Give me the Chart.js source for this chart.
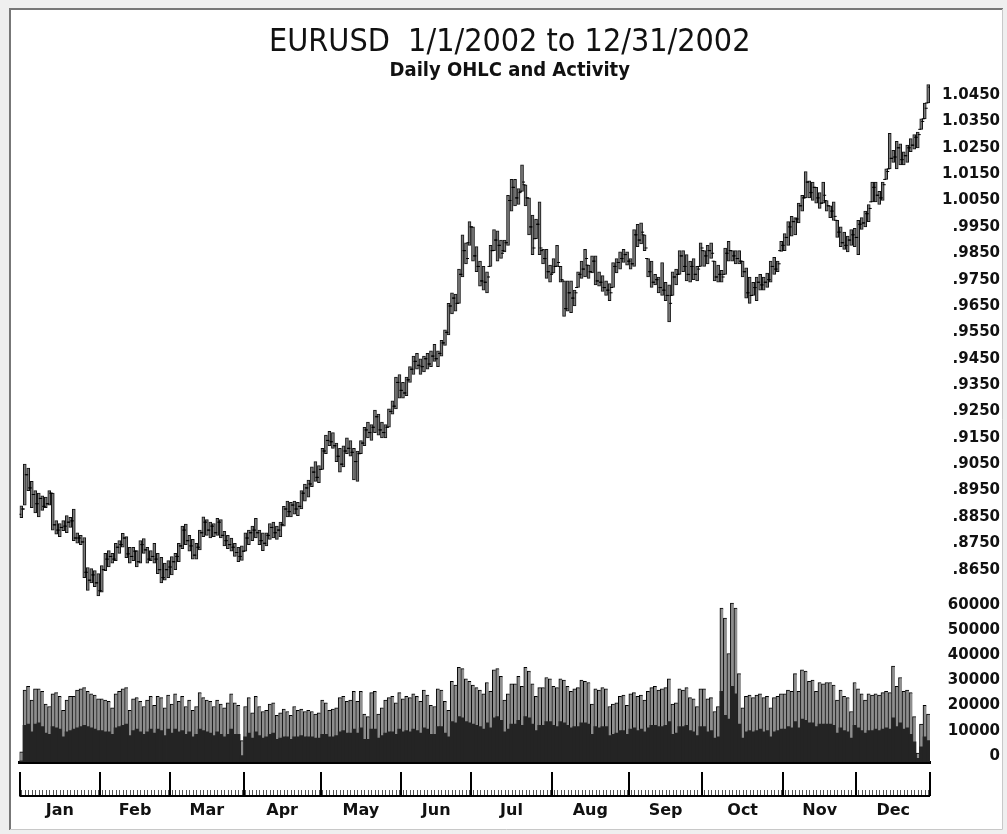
<!DOCTYPE html>
<html>
<head>
<meta charset="utf-8">
<script src="https://cdn.jsdelivr.net/npm/chart.js@4.4.1/dist/chart.umd.min.js"></script>
<style>
  html, body { margin: 0; padding: 0; background: #fff; }
  #wrap { position: relative; width: 1007px; height: 834px; }
  canvas { position: absolute; left: 0; top: 0; }
</style>
</head>
<body>
<div id="wrap"><canvas id="chart" width="1007" height="834"></canvas></div>
<script>
// months and trading days per month (weekdays, Dec 25 closed)
const months = ["Jan", "Feb", "Mar", "Apr", "May", "Jun", "Jul", "Aug", "Sep", "Oct", "Nov", "Dec"];
const monthDays = [23, 20, 21, 22, 23, 20, 23, 22, 21, 23, 21, 21];

const priceTicks = [0.865, 0.875, 0.885, 0.895, 0.905, 0.915, 0.925, 0.935, 0.945, 0.955,
    0.965, 0.975, 0.985, 0.995, 1.005, 1.015, 1.025, 1.035, 1.045];
const activityTicks = [0, 10000, 20000, 30000, 40000, 50000, 60000];

// daily EURUSD, one row per month
const high = [
    .8892, .9050, .9035, .8985, .8950, .8940, .8930, .8925, .8950, .8940, .8836, .8825, .8836, .8855, .8848, .8880, .8790, .8780, .8772, .8658, .8654, .8646, .8635,
    .8665, .8712, .8722, .8712, .8750, .8760, .8788, .8775, .8735, .8735, .8722, .8760, .8768, .8735, .8722, .8750, .8712, .8697, .8675, .8684,
    .8700, .8712, .8750, .8815, .8823, .8780, .8765, .8750, .8800, .8850, .8840, .8830, .8825, .8845, .8840, .8795, .8780, .8770, .8750, .8735, .8740,
    .8790, .8800, .8815, .8845, .8800, .8790, .8790, .8825, .8830, .8815, .8830, .8890, .8910, .8905, .8910, .8905, .8950, .8975, .8990, .9040, .9060, .9045,
    .9110, .9160, .9175, .9170, .9130, .9110, .9120, .9150, .9140, .9110, .9100, .9140, .9190, .9210, .9200, .9255, .9240, .9210, .9200, .9260, .9290, .9380, .9390,
    .9360, .9380, .9420, .9460, .9470, .9450, .9460, .9470, .9480, .9505, .9480, .9520, .9560, .9660, .9700, .9695, .9790, .9920, .9890, .9970,
    .9950, .9875, .9820, .9800, .9780, .9880, .9940, .9935, .9900, .9900, 1.0070, 1.0130, 1.0130, 1.0095, 1.0185, 1.0110, 1.0060, .9995, .9980, 1.0045, .9865, .9865, .9805,
    .9830, .9880, .9800, .9745, .9745, .9745, .9710, .9780, .9820, .9865, .9805, .9840, .9840, .9780, .9765, .9745, .9735, .9815, .9830, .9855, .9865, .9855,
    .9830, .9940, .9960, .9965, .9920, .9830, .9820, .9770, .9760, .9815, .9740, .9730, .9780, .9790, .9860, .9860, .9845, .9820, .9830, .9800, .9890,
    .9860, .9880, .9890, .9820, .9805, .9785, .9870, .9895, .9860, .9860, .9860, .9820, .9795, .9760, .9740, .9760, .9770, .9760, .9775, .9820, .9835, .9820, .9895,
    .9925, .9970, .9990, .9985, 1.0040, 1.0070, 1.0160, 1.0125, 1.0120, 1.0100, 1.0080, 1.0120, 1.0050, 1.0030, 1.0045, .9975, .9950, .9930, .9915, .9940, .9945,
    .9975, .9985, 1.0010, 1.0035, 1.0120, 1.0120, 1.0085, 1.0120, 1.0170, 1.0305, 1.0240, 1.0275, 1.0265, 1.0235, 1.0260, 1.0285, 1.0300, 1.0310, 1.0360, 1.0420, 1.0490
];
const low = [
    .8847, .8895, .8950, .8885, .8865, .8850, .8875, .8885, .8895, .8800, .8785, .8775, .8798, .8790, .8810, .8760, .8750, .8745, .8620, .8571, .8600, .8585, .8550,
    .8565, .8646, .8660, .8675, .8684, .8712, .8735, .8695, .8675, .8684, .8660, .8675, .8712, .8675, .8684, .8675, .8635, .8600, .8610, .8620,
    .8630, .8650, .8680, .8730, .8745, .8720, .8690, .8690, .8725, .8775, .8780, .8770, .8775, .8780, .8770, .8740, .8730, .8720, .8700, .8680, .8685,
    .8720, .8745, .8760, .8770, .8745, .8722, .8740, .8765, .8770, .8765, .8775, .8815, .8850, .8850, .8860, .8855, .8880, .8910, .8925, .8965, .8985, .8980,
    .9030, .9090, .9120, .9110, .9060, .9020, .9040, .9090, .9080, .8990, .8985, .9090, .9120, .9150, .9140, .9170, .9160, .9150, .9150, .9190, .9240, .9260, .9300,
    .9300, .9310, .9360, .9390, .9410, .9390, .9400, .9410, .9420, .9440, .9420, .9460, .9500, .9540, .9620, .9630, .9660, .9760, .9810, .9880,
    .9820, .9780, .9725, .9710, .9700, .9800, .9860, .9820, .9830, .9855, .9880, 1.0010, 1.0030, 1.0035, 1.0085, 1.0030, .9920, .9845, .9905, .9845, .9810, .9755, .9740,
    .9775, .9800, .9740, .9610, .9630, .9625, .9650, .9720, .9755, .9760, .9755, .9775, .9730, .9725, .9705, .9690, .9670, .9720, .9775, .9790, .9815, .9805,
    .9790, .9800, .9875, .9885, .9860, .9760, .9720, .9730, .9700, .9690, .9670, .9590, .9690, .9730, .9770, .9780, .9745, .9740, .9750, .9745, .9800,
    .9800, .9810, .9830, .9745, .9740, .9740, .9770, .9820, .9820, .9810, .9810, .9760, .9680, .9660, .9690, .9670, .9710, .9710, .9720, .9740, .9770, .9780, .9857,
    .9860, .9880, .9915, .9920, .9965, 1.0010, 1.0060, 1.0060, 1.0050, 1.0040, 1.0020, 1.0040, 1.0010, .9985, .9975, .9910, .9875, .9865, .9855, .9880, .9875,
    .9845, .9940, .9950, .9970, 1.0045, 1.0045, 1.0035, 1.0050, 1.0130, 1.0170, 1.0195, 1.0170, 1.0185, 1.0185, 1.0195, 1.0235, 1.0245, 1.0250, 1.0320, 1.0360, 1.0420
];
const open = [
    .8860, .8880, .9010, .8960, .8935, .8900, .8920, .8890, .8900, .8940, .8820, .8800, .8810, .8815, .8830, .8835, .8770, .8770, .8755, .8640, .8610, .8630, .8600,
    .8570, .8650, .8690, .8700, .8690, .8735, .8745, .8770, .8710, .8700, .8720, .8680, .8745, .8725, .8690, .8700, .8690, .8650, .8620, .8650,
    .8660, .8680, .8700, .8740, .8800, .8760, .8740, .8705, .8735, .8790, .8830, .8800, .8815, .8790, .8830, .8780, .8760, .8745, .8735, .8715, .8700,
    .8720, .8770, .8790, .8800, .8790, .8760, .8750, .8780, .8810, .8790, .8800, .8820, .8880, .8870, .8895, .8880, .8890, .8940, .8960, .8975, .9020, .9000,
    .9030, .9100, .9140, .9135, .9120, .9080, .9050, .9100, .9110, .9095, .9060, .9090, .9130, .9180, .9170, .9190, .9230, .9180, .9170, .9190, .9250, .9270, .9360,
    .9330, .9320, .9370, .9410, .9440, .9425, .9420, .9450, .9430, .9460, .9450, .9470, .9510, .9550, .9650, .9680, .9660, .9770, .9860, .9890,
    .9950, .9840, .9800, .9745, .9740, .9800, .9860, .9900, .9880, .9860, .9890, 1.0050, 1.0100, 1.0060, 1.0085, 1.0110, 1.0060, .9950, .9905, .9960, .9860, .9830, .9780,
    .9775, .9800, .9800, .9745, .9640, .9700, .9680, .9720, .9770, .9790, .9805, .9780, .9820, .9745, .9740, .9720, .9710, .9720, .9800, .9815, .9830, .9845,
    .9820, .9810, .9920, .9900, .9920, .9830, .9780, .9740, .9750, .9720, .9710, .9690, .9690, .9760, .9770, .9840, .9800, .9770, .9800, .9770, .9800,
    .9860, .9840, .9860, .9820, .9760, .9770, .9770, .9850, .9860, .9840, .9830, .9820, .9780, .9700, .9690, .9720, .9740, .9730, .9740, .9750, .9800, .9790, .9860,
    .9880, .9910, .9950, .9970, .9980, 1.0030, 1.0060, 1.0120, 1.0080, 1.0100, 1.0060, 1.0040, 1.0050, 1.0030, 1.0010, .9975, .9930, .9890, .9880, .9900, .9920,
    .9910, .9960, .9965, 1.0000, 1.0045, 1.0100, 1.0070, 1.0060, 1.0130, 1.0170, 1.0210, 1.0215, 1.0250, 1.0205, 1.0220, 1.0250, 1.0260, 1.0290, 1.0320, 1.0360, 1.0420
];
const close = [
    .8880, .9010, .8960, .8935, .8900, .8920, .8890, .8900, .8940, .8820, .8800, .8810, .8815, .8830, .8835, .8770, .8770, .8755, .8640, .8610, .8630, .8600, .8570,
    .8650, .8690, .8700, .8690, .8735, .8745, .8770, .8710, .8700, .8720, .8680, .8745, .8725, .8690, .8700, .8690, .8650, .8620, .8650, .8660,
    .8680, .8700, .8740, .8800, .8760, .8740, .8705, .8735, .8790, .8830, .8800, .8815, .8790, .8830, .8780, .8760, .8745, .8735, .8715, .8700, .8720,
    .8770, .8790, .8800, .8790, .8760, .8750, .8780, .8810, .8790, .8800, .8820, .8880, .8870, .8895, .8880, .8890, .8940, .8960, .8975, .9020, .9000, .9030,
    .9100, .9140, .9135, .9120, .9080, .9050, .9100, .9110, .9095, .9060, .9090, .9130, .9180, .9170, .9190, .9230, .9180, .9170, .9190, .9250, .9270, .9360, .9330,
    .9320, .9370, .9410, .9440, .9425, .9420, .9450, .9430, .9460, .9450, .9470, .9510, .9550, .9650, .9680, .9660, .9770, .9860, .9830, .9950,
    .9840, .9800, .9745, .9740, .9760, .9860, .9900, .9880, .9850, .9890, 1.0050, 1.0100, 1.0060, 1.0080, 1.0120, 1.0060, .9950, .9870, .9960, .9870, .9830, .9780, .9770,
    .9800, .9815, .9750, .9640, .9700, .9680, .9700, .9770, .9790, .9830, .9780, .9820, .9745, .9740, .9720, .9710, .9700, .9800, .9815, .9830, .9845, .9820,
    .9810, .9920, .9900, .9930, .9870, .9780, .9740, .9750, .9720, .9710, .9690, .9660, .9760, .9770, .9840, .9800, .9770, .9800, .9770, .9790, .9870,
    .9840, .9860, .9850, .9760, .9770, .9760, .9850, .9860, .9840, .9830, .9820, .9780, .9700, .9690, .9720, .9740, .9730, .9740, .9750, .9800, .9790, .9810, .9880,
    .9910, .9950, .9970, .9980, 1.0030, 1.0060, 1.0120, 1.0080, 1.0100, 1.0060, 1.0040, 1.0070, 1.0030, 1.0010, .9990, .9930, .9890, .9880, .9900, .9920, .9910,
    .9960, .9965, 1.0000, 1.0020, 1.0100, 1.0070, 1.0060, 1.0110, 1.0160, 1.0210, 1.0215, 1.0250, 1.0205, 1.0220, 1.0250, 1.0260, 1.0290, 1.0300, 1.0350, 1.0400, 1.0480
];

// daily activity: whole bar (grey) and the dark lower part
const activityTotal = [
    4000, 28500, 30000, 24500, 29000, 29000, 28000, 23000, 22000, 27000, 27500, 26000, 20500, 24500, 26000, 26000, 28500, 29000, 29500, 28000, 27000, 26500, 25000,
    25000, 24500, 24000, 21500, 27000, 28000, 29000, 29500, 20500, 25000, 25500, 24000, 22000, 24500, 26000, 22500, 26000, 25500, 21500, 26500,
    23000, 27000, 24000, 26000, 22000, 24500, 20500, 22000, 27500, 25500, 24500, 24000, 22000, 24500, 23000, 21500, 23500, 27000, 23500, 22500, 8500,
    22000, 25500, 19500, 26000, 22000, 20000, 20500, 23000, 23500, 18500, 19500, 21000, 20000, 18500, 22000, 20500, 21000, 20000, 20500, 20000, 19000, 19500,
    24500, 23500, 20500, 21000, 21500, 25500, 26000, 24000, 24500, 28000, 24000, 28000, 19000, 18000, 27500, 28000, 19000, 21500, 24500, 25500, 26000, 23500, 27500,
    25000, 26000, 25500, 27000, 26000, 24000, 28500, 26500, 22500, 22000, 29000, 28500, 24000, 20500, 32000, 30500, 37500, 37000, 33000, 32000,
    30500, 29500, 28500, 27000, 31500, 28000, 36500, 37000, 34000, 24500, 27000, 31000, 31000, 34000, 30000, 37500, 36000, 31000, 26000, 29500, 29500, 33500, 33000,
    30000, 29500, 33000, 32500, 30000, 28000, 29000, 29500, 32500, 32000, 31500, 23000, 29000, 28500, 29500, 29000, 22000, 23000, 23500, 26000, 26500, 22500,
    27000, 27500, 26000, 26500, 24500, 28000, 29500, 30000, 28500, 29000, 29500, 33000, 23000, 23500, 29000, 28500, 29500, 25500, 25000, 22000, 29000,
    29000, 25000, 25500, 20000, 22000, 61000, 57000, 43000, 63000, 61000, 35000, 21500, 26000, 26500, 25500, 26500, 27000, 25500, 26000, 21500, 25500, 26000, 27000,
    27000, 28500, 28000, 35000, 28000, 36500, 36000, 32000, 32500, 28000, 31500, 31000, 31500, 31500, 30500, 24500, 28500, 26000, 25500, 20000, 31500,
    29000, 27000, 24500, 27000, 26500, 27000, 26500, 27500, 28000, 27500, 38000, 30000, 33500, 28000, 28500, 27500, 18000, 3500, 15000, 22500, 19000
];
const activityDark = [
    500, 14500, 15000, 12000, 15000, 15500, 14000, 11500, 11000, 14000, 13500, 13000, 10000, 12000, 12500, 13000, 13500, 14000, 14500, 14000, 13500, 13000, 12500,
    12500, 12000, 12000, 11000, 13500, 14000, 14500, 15000, 10500, 12500, 13000, 12000, 11000, 12000, 13000, 11500, 13000, 12500, 10500, 13000,
    11500, 13000, 12000, 12500, 11000, 12000, 10000, 11000, 13000, 12500, 12000, 11500, 10500, 12000, 11000, 10000, 11000, 13000, 11000, 11000, 2500,
    10000, 11500, 9500, 12000, 10500, 9500, 10000, 11000, 11500, 9000, 9500, 10000, 10000, 9000, 10000, 10000, 10500, 10000, 10000, 10000, 9500, 9500,
    11000, 11000, 10000, 10000, 10500, 12000, 12500, 11500, 11500, 13000, 11500, 13500, 9000, 9000, 13000, 13000, 9500, 10500, 11500, 12000, 12000, 11000, 13000,
    12000, 12500, 12000, 13000, 12500, 11500, 13500, 13000, 11000, 11000, 14000, 14000, 11500, 10000, 16000, 15500, 18000, 17500, 16000, 15500,
    15000, 14500, 14000, 13000, 15500, 13500, 17500, 18000, 16500, 12000, 13000, 15000, 15000, 16500, 14500, 18000, 17500, 15000, 12500, 14500, 14500, 16000, 16000,
    14500, 14000, 16000, 15500, 14500, 13500, 14000, 14000, 15500, 15500, 15000, 11000, 14000, 13500, 14000, 14000, 10500, 11000, 11500, 12500, 12500, 11000,
    13000, 13500, 12500, 13000, 12000, 13500, 14500, 14500, 14000, 14000, 14500, 16000, 11000, 11500, 14000, 14000, 14500, 12500, 12000, 10500, 14000,
    14000, 12000, 12500, 9500, 10000, 28000, 18500, 17000, 30000, 27000, 15000, 9500, 12000, 12500, 12000, 12500, 13000, 12000, 12500, 10000, 12000, 12500, 13000,
    13000, 14000, 13500, 16000, 13500, 17000, 16500, 15500, 15500, 14000, 15000, 15000, 15000, 15000, 14500, 11500, 13500, 12500, 12000, 9500, 14500,
    13500, 12500, 11500, 12500, 12500, 13000, 12500, 13000, 13500, 13000, 17500, 14000, 15500, 13000, 13500, 11000, 8000, 1500, 6000, 10000, 8500
];

const dayCount = high.length;
const days = high.map((h, i) => i);
const monthStart = [];
let acc = 0;
monthDays.forEach(n => { monthStart.push(acc); acc += n; });

const FONT = "'DejaVu Sans', 'Noto Sans', sans-serif";
const TITLE_FONT = "'DejaVu Sans Condensed', 'DejaVu Sans', sans-serif";
const INK = "#111";

// light window frame around the picture
const frame = {
    id: "frame",
    beforeDraw(chart) {
        const c = chart.ctx, w = chart.width, h = chart.height;
        c.save();
        c.fillStyle = "#efefef";
        c.fillRect(0, 0, w, h);
        c.fillStyle = "#fff";
        c.fillRect(10, 9, w - 14, h - 13);
        c.strokeStyle = "#777";
        c.lineWidth = 2;
        c.beginPath();
        c.moveTo(10, h - 4);
        c.lineTo(10, 9);
        c.lineTo(w - 4, 9);
        c.stroke();
        c.strokeStyle = "#c8c8c8";
        c.lineWidth = 1;
        c.beginPath();
        c.moveTo(w - 4.5, 9);
        c.lineTo(w - 4.5, h - 4.5);
        c.lineTo(10, h - 4.5);
        c.stroke();
        c.restore();
    }
};

// calendar strip under the activity bars: month ticks and one tick per day
const timeline = {
    id: "timeline",
    afterDraw(chart) {
        const x = chart.scales.x, c = chart.ctx;
        const yTop = chart.chartArea.bottom + 10;
        const yBase = chart.chartArea.bottom + 34;
        c.save();
        c.strokeStyle = "#555";
        c.lineWidth = 1;
        c.beginPath();
        days.forEach(i => {
            const px = Math.round(x.getPixelForValue(i)) + 0.5;
            c.moveTo(px, yBase - 6);
            c.lineTo(px, yBase);
        });
        c.stroke();
        c.strokeStyle = "#000";
        c.lineWidth = 2;
        c.beginPath();
        monthStart.concat([dayCount]).forEach(m => {
            const px = Math.round(x.getPixelForValue(m - 0.5));
            c.moveTo(px, yTop);
            c.lineTo(px, yBase);
        });
        c.moveTo(x.getPixelForValue(-0.5), yBase);
        c.lineTo(x.getPixelForValue(dayCount - 0.5), yBase);
        c.stroke();
        c.restore();
    }
};

new Chart(document.getElementById("chart"), {
    data: {
        datasets: [{
            type: "bar",
            yAxisID: "v",
            data: days.map(i => ({x: i, y: activityDark[i]})),
            backgroundColor: "#242424",
            borderWidth: 0,
            barThickness: 3.5,
            grouped: false,
            order: 4
        }, {
            type: "bar",
            yAxisID: "v",
            data: days.map(i => ({x: i, y: activityTotal[i]})),
            backgroundColor: "#8e8e8e",
            borderColor: "#000",
            borderWidth: {top: 1, left: 1, right: 0, bottom: 0},
            borderSkipped: false,
            barThickness: 3.5,
            grouped: false,
            order: 5
        }, {
            type: "bar",
            yAxisID: "y",
            data: days.map(i => ({x: i, y: [low[i], high[i]]})),
            backgroundColor: "#7a7a7a",
            borderColor: "#111",
            borderWidth: 1,
            borderSkipped: false,
            barThickness: 3,
            grouped: false,
            order: 3
        }, {
            type: "scatter",
            yAxisID: "y",
            data: days.map(i => ({x: i - 0.43, y: open[i]})),
            pointStyle: "line",
            pointRadius: 1.5,
            borderColor: "#000",
            borderWidth: 1,
            order: 2
        }, {
            type: "scatter",
            yAxisID: "y",
            data: days.map(i => ({x: i + 0.43, y: close[i]})),
            pointStyle: "line",
            pointRadius: 1.5,
            borderColor: "#000",
            borderWidth: 1,
            order: 1
        }]
    },
    options: {
        responsive: false,
        animation: false,
        events: [],
        layout: {padding: {left: 19.5, right: 7, top: 8, bottom: 14}},
        plugins: {
            legend: {display: false},
            tooltip: {enabled: false},
            title: {
                display: true,
                text: "EURUSD  1/1/2002 to 12/31/2002",
                color: INK,
                font: {family: TITLE_FONT, size: 32, weight: "normal", lineHeight: 1.1},
                padding: {top: 17, bottom: 0}
            },
            subtitle: {
                display: true,
                text: "Daily OHLC and Activity",
                color: INK,
                font: {family: TITLE_FONT, size: 20, weight: "bold", lineHeight: 1.1},
                padding: {top: 0, bottom: 0}
            }
        },
        scales: {
            x: {
                type: "linear",
                offset: false,
                min: -0.5,
                max: dayCount - 0.5,
                grid: {display: false, drawTicks: false},
                border: {display: true, color: "#000", width: 3},
                afterBuildTicks: axis => {
                    axis.ticks = monthStart.map((m, k) => ({value: m + monthDays[k] / 2 - 0.5}));
                },
                afterFit: axis => { axis.height = 58; },
                ticks: {
                    autoSkip: false,
                    maxRotation: 0,
                    padding: 39,
                    color: INK,
                    font: {family: FONT, size: 16, weight: "bold"},
                    callback: (v, k) => months[k]
                }
            },
            y: {
                type: "linear",
                position: "right",
                stack: "right",
                stackWeight: 520,
                min: 0.85329,
                max: 1.04988,
                grid: {display: false, drawTicks: false},
                border: {display: false},
                afterBuildTicks: axis => {
                    axis.ticks = priceTicks.map(v => ({value: v}));
                },
                afterFit: axis => { axis.width = 70; },
                ticks: {
                    autoSkip: false,
                    crossAlign: "far",
                    padding: 6,
                    color: INK,
                    font: {family: FONT, size: 15, weight: "bold"},
                    callback: v => v >= 1 ? v.toFixed(4) : v.toFixed(4).slice(1)
                }
            },
            v: {
                type: "linear",
                position: "right",
                stack: "right",
                stackWeight: 162,
                min: 0,
                max: 64000,
                grid: {display: false, drawTicks: false},
                border: {display: false},
                afterBuildTicks: axis => {
                    axis.ticks = activityTicks.map(v => ({value: v}));
                },
                afterFit: axis => { axis.width = 70; },
                ticks: {
                    autoSkip: false,
                    crossAlign: "far",
                    padding: 6,
                    labelOffset: -6,
                    color: INK,
                    font: {family: FONT, size: 15, weight: "bold"},
                    callback: v => String(v)
                }
            }
        }
    },
    plugins: [frame, timeline]
});
</script>
</body>
</html>
